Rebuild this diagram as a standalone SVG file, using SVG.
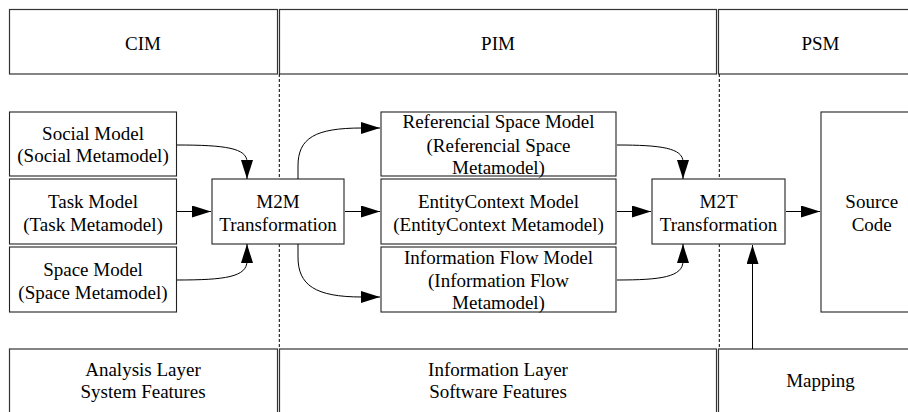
<svg xmlns="http://www.w3.org/2000/svg" width="908" height="412" viewBox="0 0 908 412">
  <style>
    text { font-family: "Liberation Serif", "Times New Roman", serif; font-size: 19px; fill: #000; text-anchor: middle; }
    .band { fill: #fff; stroke: #333; stroke-width: 1.2; }
    .box { fill: #fff; stroke: #222; stroke-width: 1.1; }
    .sep { fill: none; stroke: #000; stroke-width: 1; stroke-dasharray: 3 2; }
    .edge { fill: none; stroke: #000; stroke-width: 1; marker-end: url(#head); }
  </style>
  <defs>
    <marker id="head" markerUnits="userSpaceOnUse" markerWidth="19" markerHeight="12" refX="19" refY="6" orient="auto">
      <path d="M0,0 L19,6 L0,12 Z" fill="#000"/>
    </marker>
  </defs>

  <rect width="908" height="412" fill="#fff"/>

  <!-- top band: model levels -->
  <g id="band-top">
    <g id="cim"><rect class="band" x="9.5" y="9.5" width="268" height="64.5"/><text x="143" y="49.5">CIM</text></g>
    <g id="pim"><rect class="band" x="279.5" y="9.5" width="437" height="64.5"/><text x="498" y="49.5">PIM</text></g>
    <g id="psm"><rect class="band" x="718.5" y="9.5" width="204" height="64.5"/><text x="820.5" y="49.5">PSM</text></g>
  </g>

  <!-- bottom band: layers -->
  <g id="band-bottom">
    <g id="analysis-layer"><rect class="band" x="9.5" y="349" width="268" height="80"/>
      <text x="143" y="376">Analysis Layer</text><text x="143" y="398">System Features</text></g>
    <g id="information-layer"><rect class="band" x="279.5" y="349" width="437" height="80"/>
      <text x="498" y="376">Information Layer</text><text x="498" y="398">Software Features</text></g>
    <g id="mapping"><rect class="band" x="718.5" y="349" width="204" height="80"/>
      <text x="820.5" y="387">Mapping</text></g>
  </g>

  <!-- dashed level separators -->
  <g id="separators">
    <line class="sep" x1="279.3" y1="74" x2="279.3" y2="349"/>
    <line class="sep" x1="719.3" y1="74" x2="719.3" y2="349"/>
  </g>

  <!-- nodes -->
  <g id="social-model"><rect class="box" x="9.5" y="112" width="167" height="64"/>
    <text x="93" y="140">Social Model</text><text x="93" y="162">(Social Metamodel)</text></g>
  <g id="task-model"><rect class="box" x="9.5" y="179" width="167" height="65"/>
    <text x="93" y="208">Task Model</text><text x="93" y="230.5">(Task Metamodel)</text></g>
  <g id="space-model"><rect class="box" x="9.5" y="247" width="167" height="65"/>
    <text x="93" y="276">Space Model</text><text x="93" y="298.5">(Space Metamodel)</text></g>

  <g id="m2m"><rect class="box" x="212" y="179" width="132" height="65"/>
    <text x="278" y="208">M2M</text><text x="278" y="230.5">Transformation</text></g>

  <g id="referencial-space-model"><rect class="box" x="381" y="112" width="235" height="64"/>
    <text x="498.5" y="128">Referencial Space Model</text><text x="498.5" y="151.5">(Referencial Space</text><text x="498.5" y="174">Metamodel)</text></g>
  <g id="entitycontext-model"><rect class="box" x="381" y="179" width="235" height="65"/>
    <text x="498.5" y="208">EntityContext Model</text><text x="498.5" y="230.5">(EntityContext Metamodel)</text></g>
  <g id="information-flow-model"><rect class="box" x="381" y="247" width="235" height="65"/>
    <text x="498.5" y="264">Information Flow Model</text><text x="498.5" y="286.5">(Information Flow</text><text x="498.5" y="309">Metamodel)</text></g>

  <g id="m2t"><rect class="box" x="652" y="179" width="133" height="65"/>
    <text x="718.5" y="208">M2T</text><text x="718.5" y="230.5">Transformation</text></g>

  <g id="source-code"><rect class="box" x="821" y="112" width="101" height="200"/>
    <text x="871.7" y="208">Source</text><text x="871.7" y="230.5">Code</text></g>

  <!-- connectors -->
  <g id="connectors">
    <path class="edge" d="M177,145 C225,145 247,148 247,162 L247,179"/>
    <path class="edge" d="M177,211.5 L211,211.5"/>
    <path class="edge" d="M177,280 C225,280 247,277 247,261 L247,244"/>
    <path class="edge" d="M298,179 L298,166 C298,138 315,128 362,128 L380,128"/>
    <path class="edge" d="M345,211.5 L380,211.5"/>
    <path class="edge" d="M298,244 L298,257 C298,285 315,297 362,297 L380,297"/>
    <path class="edge" d="M617,145 C661,145 683,148 683,162 L683,179"/>
    <path class="edge" d="M617,211.5 L651,211.5"/>
    <path class="edge" d="M617,280 C661,280 683,277 683,261 L683,244"/>
    <path class="edge" d="M786,211.5 L820,211.5"/>
    <path class="edge" d="M752.5,349 L752.5,245"/>
  </g>
</svg>
